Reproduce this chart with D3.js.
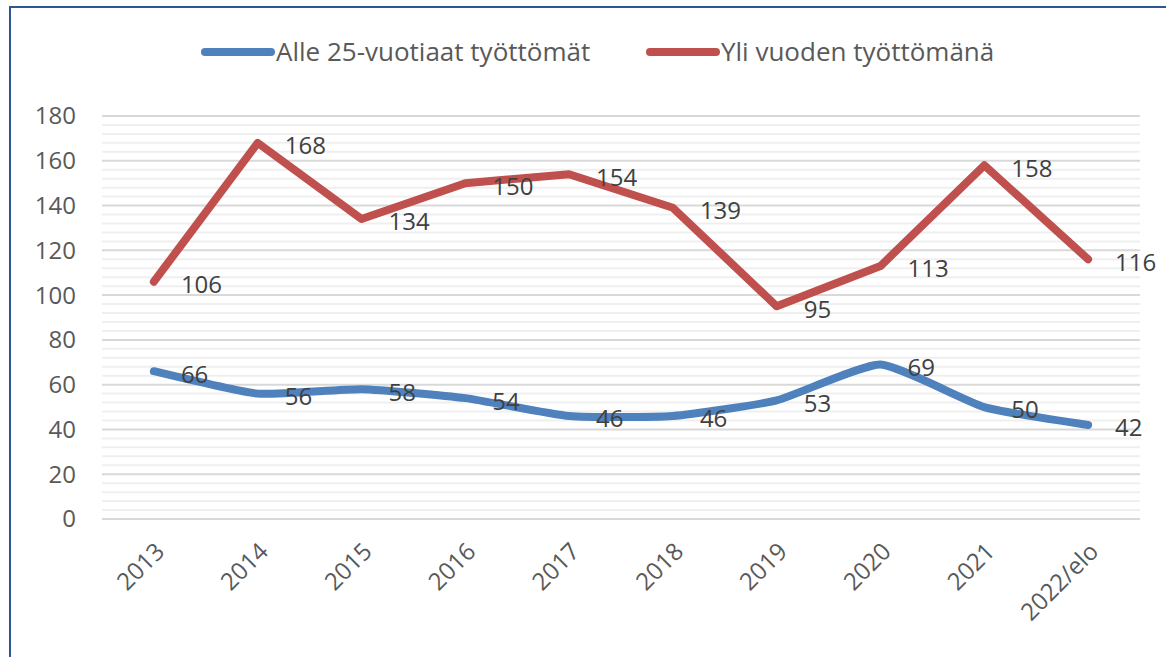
<!DOCTYPE html>
<html>
<head>
<meta charset="utf-8">
<script src="https://cdn.jsdelivr.net/npm/d3@7"></script>
<style>
  body { margin: 0; background: #fff; }
  text { font-family: "Open Sans", "Noto Sans", sans-serif; }
</style>
</head>
<body>
<svg width="1166" height="657"></svg>
<script>
var years = ['2013', '2014', '2015', '2016', '2017', '2018', '2019', '2020', '2021', '2022/elo'];
var youngValues = [66, 56, 58, 54, 46, 46, 53, 69, 50, 42];
var longValues = [106, 168, 134, 150, 154, 139, 95, 113, 158, 116];
var seriesNames = ['Alle 25-vuotiaat työttömät', 'Yli vuoden työttömänä'];
var yTicks = [0, 20, 40, 60, 80, 100, 120, 140, 160, 180];

var svg = d3.select('svg');

// outer frame
svg.append('rect')
  .attr('x', 10).attr('y', 7)
  .attr('width', 1200).attr('height', 700)
  .style('fill', 'none')
  .style('stroke', '#2f5597')
  .style('stroke-width', 2);

var x = d3.scaleBand().domain(years).range([102, 1140]);
var y = d3.scaleLinear().domain([0, 180]).range([519, 116]);

// minor gridlines every 4
var minor = d3.range(4, 180, 4).filter(function(v){ return v % 20 !== 0; });
svg.append('g').selectAll('line')
  .data(minor)
  .enter().append('line')
  .attr('x1', 102).attr('x2', 1140)
  .attr('y1', function(d){ return y(d); })
  .attr('y2', function(d){ return y(d); })
  .style('stroke', '#efefef')
  .style('stroke-width', 2);

// major gridlines
svg.append('g').selectAll('line')
  .data(yTicks)
  .enter().append('line')
  .attr('x1', 102).attr('x2', 1140)
  .attr('y1', function(d){ return y(d); })
  .attr('y2', function(d){ return y(d); })
  .style('stroke', '#d9d9d9')
  .style('stroke-width', 2);

// y labels
svg.append('g').selectAll('text')
  .data(yTicks)
  .enter().append('text')
  .attr('x', 76)
  .attr('y', function(d){ return y(d); })
  .attr('dy', '0.35em')
  .attr('text-anchor', 'end')
  .style('font-size', '24px')
  .style('fill', '#595959')
  .text(function(d){ return d; });

// x labels
svg.append('g').selectAll('text')
  .data(years)
  .enter().append('text')
  .attr('transform', function(d){
    return 'translate(' + (x(d) + x.bandwidth() / 2 + 6) + ',547) rotate(-45)';
  })
  .attr('text-anchor', 'end')
  .attr('dy', '0.35em')
  .style('font-size', '24px')
  .style('fill', '#595959')
  .text(function(d){ return d; });

var cx = function(d, i){ return x(years[i]) + x.bandwidth() / 2; };

var series = [
  { name: seriesNames[0], values: youngValues, color: '#4f81bd', curve: d3.curveCardinal.tension(0.5) },
  { name: seriesNames[1], values: longValues, color: '#c0504d', curve: d3.curveLinear }
];

series.forEach(function(s){
  var line = d3.line()
    .x(cx)
    .y(function(d){ return y(d); })
    .curve(s.curve);
  svg.append('path')
    .datum(s.values)
    .attr('d', line)
    .style('fill', 'none')
    .style('stroke', s.color)
    .style('stroke-width', 8)
    .style('stroke-linecap', 'round')
    .style('stroke-linejoin', 'round');
});

series.forEach(function(s){
  svg.append('g').selectAll('text')
    .data(s.values)
    .enter().append('text')
    .attr('x', function(d, i){ return cx(d, i) + 27; })
    .attr('y', function(d){ return y(d) + 3; })
    .attr('dy', '0.35em')
    .style('font-size', '24px')
    .style('fill', '#404040')
    .text(function(d){ return d; });
});

// legend
var legendX = [205, 650];
series.forEach(function(s, i){
  svg.append('line')
    .attr('x1', legendX[i]).attr('x2', legendX[i] + 66)
    .attr('y1', 52).attr('y2', 52)
    .style('stroke', s.color)
    .style('stroke-width', 8)
    .style('stroke-linecap', 'round');
  svg.append('text')
    .attr('x', legendX[i] + 71)
    .attr('y', 52)
    .attr('dy', '0.35em')
    .style('font-size', '26px')
    .style('fill', '#595959')
    .text(s.name);
});
</script>
</body>
</html>
